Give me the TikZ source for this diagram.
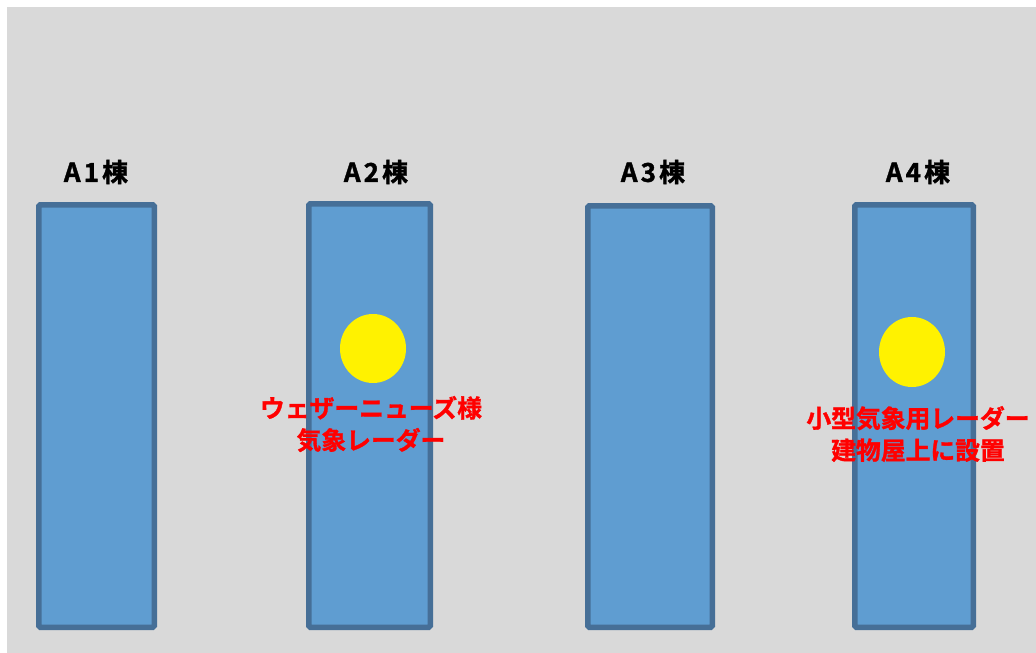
\documentclass[tikz,border=0pt]{standalone}
\usepackage{fontspec}
\setmainfont{Noto Sans CJK JP}
\newfontfamily\labfont[LetterSpace=12,FakeBold=1.5]{Noto Sans CJK JP Bold}
\newfontfamily\redfont[FakeBold=1.2]{Noto Sans CJK JP Bold}
\definecolor{bg}{HTML}{D9D9D9}
\definecolor{bfill}{HTML}{5F9DD1}
\definecolor{bline}{HTML}{466F97}
\begin{document}
\begin{tikzpicture}[x=1pt,y=-1pt,
  bldg/.style={draw=bline,fill=bfill,line width=5.5pt,rounded corners=1.5pt},
  lab/.style={font=\labfont\fontsize{26}{30}\selectfont,inner sep=0pt},
  radar/.style={fill=yellow,draw=none},
  note/.style={font=\redfont\fontsize{24.8}{32}\selectfont,text=red,align=center,inner sep=0pt}]
\useasboundingbox (0,0) rectangle (1036,653);
\fill[bg] (7,7) rectangle (1036,653);
\draw[bldg] (38.75,204.75) rectangle (154.25,627.25);
\draw[bldg] (308.75,203.75) rectangle (430.25,627.25);
\draw[bldg] (587.75,205.75) rectangle (712.25,627.25);
\draw[bldg] (854.75,204.75) rectangle (973.25,627.25);
\node[lab] (a1) at (96,172) {A1棟};
\node[lab] (a2) at (376,172) {A2棟};
\node[lab] (a3) at (653,172) {A3棟};
\node[lab] (a4) at (918,172) {A4棟};
\fill[radar] (373,348.5) ellipse [x radius=33, y radius=34.5];
\fill[radar] (912,352) ellipse [x radius=33, y radius=35];
\node[note] (n2) at (371,424) {ウェザーニューズ様\\気象レーダー};
\node[note] (n4) at (918,434) {小型気象用レーダー\\建物屋上に設置};
\end{tikzpicture}
\end{document}
